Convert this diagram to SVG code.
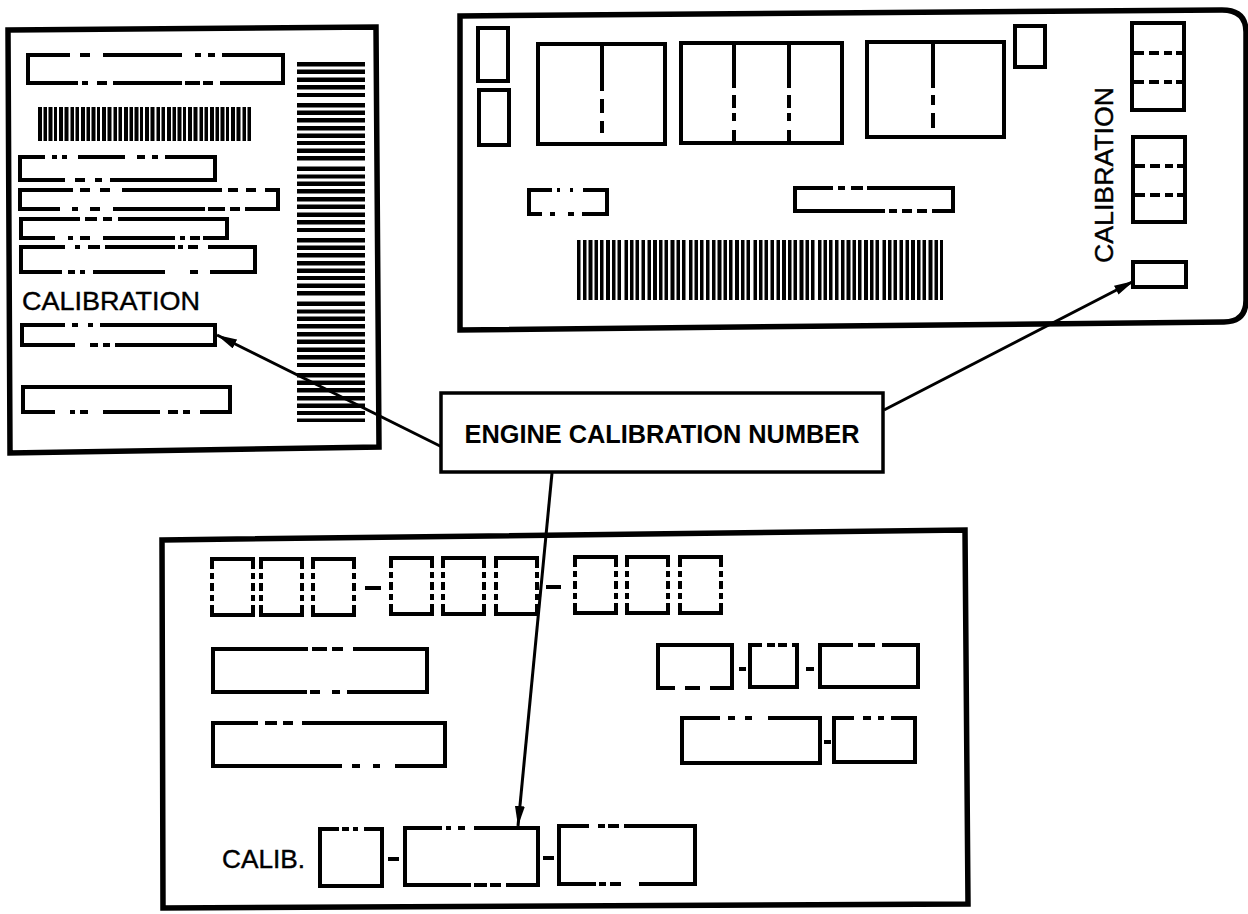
<svg xmlns="http://www.w3.org/2000/svg" xmlns:xlink="http://www.w3.org/1999/xlink" width="1248" height="914" viewBox="0 0 1248 914">
<style>
.frame{fill:#fff;stroke:#000;stroke-width:5.5;stroke-linejoin:miter}
.sb{fill:none;stroke:#000;stroke-width:4}
.sd{fill:none;stroke:#000;stroke-width:4;stroke-linecap:square}
.ln{fill:none;stroke:#000;stroke-width:4}
.bar{fill:none;stroke:#000}
.lbl{font-family:"Liberation Sans",Arial,sans-serif;font-size:26px;fill:#000;stroke:#000;stroke-width:0.4}
.big{font-family:"Liberation Sans",Arial,sans-serif;font-size:25px;font-weight:bold;fill:#000}
.con{fill:none;stroke:#000;stroke-width:3}
</style>
<defs>
<marker id="ah" viewBox="0 0 20 10" refX="20" refY="5" markerWidth="20" markerHeight="10" orient="auto" markerUnits="userSpaceOnUse">
<path d="M0 0 L20 5 L0 10 Z" fill="#000"/>
</marker>
<g id="digit">
<path class="sb" d="M0 10 V0 H41 V10 M0 46 V56 H41 V46 M0 14 V20 M0 24 V32 M0 36 V42 M41 14 V20 M41 24 V32 M41 36 V42"/>
</g>
</defs>
<rect width="1248" height="914" fill="#fff"/>

<g id="vin-label">
<path class="frame" d="M8 30 L376 27 L379 447 L10 453 Z"/>
<path class="sd" d="M28 55 V83 M283 55 V83"/>
<path class="ln" d="M28 55 H283" stroke-dasharray="42 10 10 13 79 13 6 7 7 7 300"/>
<path class="ln" d="M28 83 H283" stroke-dasharray="50 4 6 9 10 6 69 3 15 3 10 7 300"/>
<path class="bar" d="M38 124 H252" stroke-width="34" stroke-dasharray="4 1.5 3.5 1.5 4 1.5 3 2 4 1.5 4 2 3.5 1.5 3.5 2"/>
<path class="sd" d="M20 157 V180 M215 157 V180"/>
<path class="ln" d="M20 157 H215" stroke-dasharray="25 7 5 5 5 11 47 12 8 7 6 7 300"/>
<path class="ln" d="M20 180 H215" stroke-dasharray="45 10 10 10 7 8 300"/>
<path class="sd" d="M20 190 V209 M278 190 V209"/>
<path class="ln" d="M20 190 H278" stroke-dasharray="53 7 10 10 10 12 100 6 10 8 10 9 300"/>
<path class="ln" d="M20 209 H278" stroke-dasharray="40 12 6 12 10 13 92 3 17 5 10 5 300"/>
<path class="sd" d="M21 219 V238 M227 219 V238"/>
<path class="ln" d="M21 219 H227" stroke-dasharray="59 5 12 6 9 6 300"/>
<path class="ln" d="M21 238 H227" stroke-dasharray="34 13 5 7 10 13 72 5 5 5 10 3 300"/>
<path class="sd" d="M21 247 V272 M255 247 V272"/>
<path class="ln" d="M21 247 H255" stroke-dasharray="44 10 5 8 12 5 70 3 5 5 10 10 300"/>
<path class="ln" d="M21 272 H255" stroke-dasharray="41 6 7 5 5 8 72 25 8 12 300"/>
<text class="lbl" x="22" y="310" textLength="178" lengthAdjust="spacingAndGlyphs">CALIBRATION</text>
<path class="sd" d="M22 325 V345 M215 325 V345"/>
<path class="ln" d="M22 325 H215" stroke-dasharray="43 7 6 10 5 7 300"/>
<path class="ln" d="M22 345 H215" stroke-dasharray="53 15 8 5 7 5 300"/>
<path class="sd" d="M23 387 V412 M230 387 V412"/>
<path class="ln" d="M23 387 H230"/>
<path class="ln" d="M23 412 H230" stroke-dasharray="32 15 5 5 8 15 57 8 10 5 7 10 300"/>
<path class="bar" d="M331 62 V422" stroke-width="68" stroke-dasharray="4.5 3 4.5 3.5 4.5 3 4.5 3.5 4 6 4.5 3 4.5 3 4.5 3.5 4.5 3 4.5 3 4 3.5 4.5 3 4.5 6 4.5 3.5 4 3 4.5 3 4.5 3.5"/>
</g>

<g id="emission-label">
<path class="frame" d="M460 16 L1222 10 Q1246 10 1246 32 L1246 300 Q1246 322 1224 322 L460 330 Z"/>
<rect class="sb" x="478" y="28" width="30" height="53"/>
<rect class="sb" x="479" y="90" width="30" height="55"/>
<rect class="sb" x="538" y="44" width="127" height="100"/>
<path class="ln" d="M602 44 V133" stroke-dasharray="47 8 14 8 12"/>
<rect class="sb" x="681" y="43" width="161" height="100"/>
<path class="ln" d="M734 43 V143 M789 43 V143" stroke-dasharray="45 7 13 5 8 9 13"/>
<rect class="sb" x="867" y="42" width="137" height="95"/>
<path class="ln" d="M933 42 V128" stroke-dasharray="46 7 10 8 15"/>
<rect class="sb" x="1015" y="26" width="30" height="41"/>
<rect class="sb" x="1132" y="23" width="52" height="87"/>
<path class="ln" d="M1132 53 H1184 M1132 82 H1184" stroke-dasharray="12 5 10 5 8 4 8"/>
<rect class="sb" x="1133" y="137" width="52" height="85"/>
<path class="ln" d="M1133 166 H1185 M1133 195 H1185" stroke-dasharray="12 5 10 5 8 4 8"/>
<text class="lbl" transform="translate(1113,175) rotate(-90)" text-anchor="middle" textLength="176" lengthAdjust="spacingAndGlyphs">CALIBRATION</text>
<rect class="sb" x="1133" y="262" width="53" height="25"/>
<path class="sd" d="M529 190 V214 M607 190 V214"/>
<path class="ln" d="M529 190 H607" stroke-dasharray="23 5 3 10 3 10 300"/>
<path class="ln" d="M529 214 H607" stroke-dasharray="13 8 5 13 6 8 300"/>
<path class="sd" d="M795 188 V211 M953 188 V211"/>
<path class="ln" d="M795 188 H953" stroke-dasharray="38 5 7 6 12 4 300"/>
<path class="ln" d="M795 211 H953" stroke-dasharray="90 4 8 5 10 5 10 5 300"/>
<path class="bar" d="M577 270 H943" stroke-width="60" stroke-dasharray="3.5 2.5 3.5 2 4 2 3.5 2 3.5 2.5 4 2 3.5 2 3.5 3.5 3.5 2 3.5 2 3.5 2.5"/>
</g>

<g id="door-label">
<path class="frame" d="M162 540 L965 530 L968 904 L163 908 Z"/>
<use xlink:href="#digit" href="#digit" x="212" y="559"/>
<use xlink:href="#digit" href="#digit" x="261" y="559"/>
<use xlink:href="#digit" href="#digit" x="313" y="559"/>
<path class="ln" d="M365 588 H381"/>
<use xlink:href="#digit" href="#digit" x="391" y="558"/>
<use xlink:href="#digit" href="#digit" x="443" y="558"/>
<use xlink:href="#digit" href="#digit" x="496" y="558"/>
<path class="ln" d="M546 587 H561"/>
<use xlink:href="#digit" href="#digit" x="575" y="557"/>
<use xlink:href="#digit" href="#digit" x="627" y="557"/>
<use xlink:href="#digit" href="#digit" x="680" y="557"/>

<path class="sd" d="M213 649 V692 M427 649 V692"/>
<path class="ln" d="M213 649 H427" stroke-dasharray="95 4 15 5 11 10 300"/>
<path class="ln" d="M213 692 H427" stroke-dasharray="94 3 10 12 8 7 300"/>
<path class="sd" d="M213 723 V766 M445 723 V766"/>
<path class="ln" d="M213 723 H445" stroke-dasharray="45 7 12 6 10 9 300"/>
<path class="ln" d="M213 766 H445" stroke-dasharray="129 10 8 13 7 15 300"/>

<path class="sd" d="M658 645 V688 M732 645 V688"/>
<path class="ln" d="M658 645 H732"/>
<path class="ln" d="M658 688 H732" stroke-dasharray="17 10 15 10 300"/>
<path class="ln" d="M739 669 H746"/>
<path class="sd" d="M750 645 V687 M797 645 V687"/>
<path class="ln" d="M750 645 H797" stroke-dasharray="12 5 8 3 9 5 300"/>
<path class="ln" d="M750 687 H797"/>
<path class="ln" d="M806 669 H814"/>
<path class="sd" d="M820 645 V687 M918 645 V687"/>
<path class="ln" d="M820 645 H918" stroke-dasharray="33 5 17 7 300"/>
<path class="ln" d="M820 687 H918"/>

<path class="sd" d="M682 718 V763 M820 718 V763"/>
<path class="ln" d="M682 718 H820" stroke-dasharray="38 8 7 10 7 16 300"/>
<path class="ln" d="M682 763 H820"/>
<path class="ln" d="M824 742 H831"/>
<path class="sd" d="M834 718 V762 M915 718 V762"/>
<path class="ln" d="M834 718 H915" stroke-dasharray="20 9 8 7 6 7 300"/>
<path class="ln" d="M834 762 H915"/>

<text class="lbl" x="222" y="868" textLength="83" lengthAdjust="spacingAndGlyphs">CALIB.</text>
<path class="sd" d="M320 829 V886 M382 829 V886"/>
<path class="ln" d="M320 829 H382" stroke-dasharray="19 3 7 4 5 6 300"/>
<path class="ln" d="M320 886 H382"/>
<path class="ln" d="M388 859 H399"/>
<path class="sd" d="M405 828 V885 M538 828 V885"/>
<path class="ln" d="M405 828 H538" stroke-dasharray="37 4 5 7 7 9 300"/>
<path class="ln" d="M405 885 H538" stroke-dasharray="66 3 13 3 11 5 300"/>
<path class="ln" d="M543 858 H554"/>
<path class="sd" d="M559 826 V884 M695 826 V884"/>
<path class="ln" d="M559 826 H695" stroke-dasharray="30 9 7 3 11 5 300"/>
<path class="ln" d="M559 884 H695" stroke-dasharray="37 3 7 4 11 18 300"/>
</g>

<g id="connectors">
<path class="con" d="M442 447 L217 335" marker-end="url(#ah)"/>
<path class="con" d="M884 410 L1134 281" marker-end="url(#ah)"/>
<path class="con" d="M552 473 L518 826" marker-end="url(#ah)"/>
</g>

<g id="callout">
<rect x="441" y="393" width="442" height="79" fill="#fff" stroke="#000" stroke-width="3.5"/>
<text class="big" x="662" y="443" text-anchor="middle" textLength="395" lengthAdjust="spacingAndGlyphs">ENGINE CALIBRATION NUMBER</text>
</g>
</svg>
